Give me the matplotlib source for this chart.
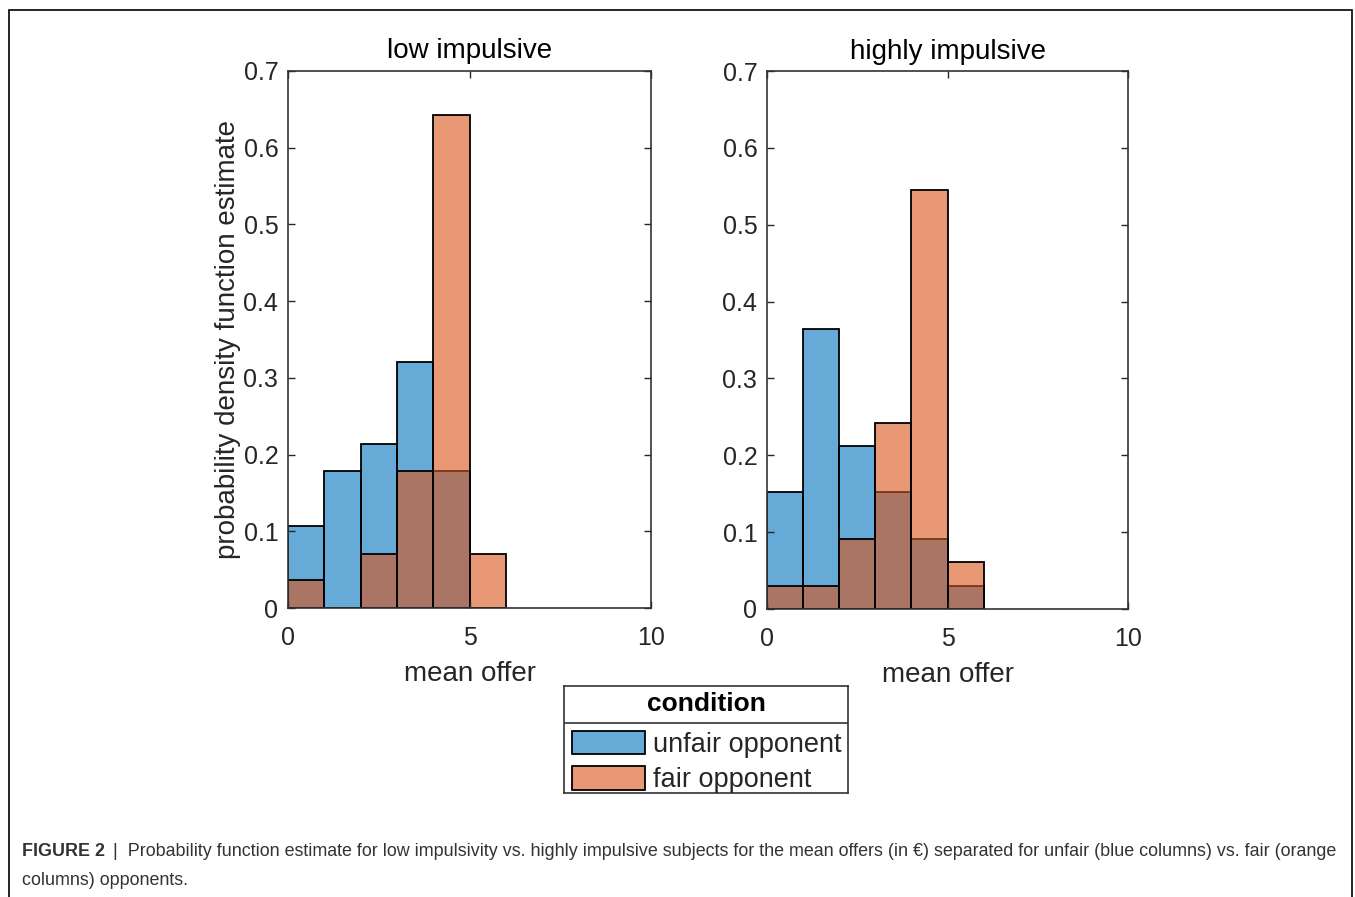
import matplotlib
matplotlib.use('Agg')
import matplotlib.pyplot as plt
from matplotlib.patches import Patch, Rectangle

# histogram bins (mean offer) and densities
bin_edges = [0, 1, 2, 3, 4, 5, 6]
panel_titles = ['low impulsive', 'highly impulsive']
series_names = ['unfair opponent', 'fair opponent']

low_unfair = [0.107, 0.179, 0.214, 0.321, 0.179, 0.0]
low_fair = [0.036, 0.0, 0.071, 0.179, 0.643, 0.071]
high_unfair = [0.152, 0.364, 0.212, 0.152, 0.091, 0.030]
high_fair = [0.030, 0.030, 0.091, 0.242, 0.545, 0.061]

xticks = [0, 5, 10]
yticks = [0, 0.1, 0.2, 0.3, 0.4, 0.5, 0.6, 0.7]
ytick_labels = ['0', '0.1', '0.2', '0.3', '0.4', '0.5', '0.6', '0.7']

caption_bold = 'FIGURE 2'
caption_line1 = ('|  Probability function estimate for low impulsivity vs. highly impulsive subjects '
                 'for the mean offers (in \u20ac) separated for unfair (blue columns) vs. fair (orange')
caption_line2 = 'columns) opponents.'

plt.rcParams['font.family'] = ['Liberation Sans', 'DejaVu Sans']
TXT = '#262626'
BLUE = (0.0, 0.447, 0.741, 0.6)
ORANGE = (0.85, 0.325, 0.098, 0.6)
W, H = 1355, 897

fig = plt.figure(figsize=(W / 100, H / 100), dpi=100)
fig.patch.set_facecolor('white')

# outer frame of the figure panel
fig.add_artist(Rectangle((9 / W, -0.05), (1352 - 9) / W, 1.05 - 10 / H,
                         transform=fig.transFigure, fill=False, edgecolor='black', lw=1.2))

ax1 = fig.add_axes([288 / W, 1 - 608 / H, 363 / W, 537 / H])
ax2 = fig.add_axes([767 / W, 1 - 609 / H, 361 / W, 538 / H])

for ax, title, unfair, fair in [(ax1, panel_titles[0], low_unfair, low_fair),
                                (ax2, panel_titles[1], high_unfair, high_fair)]:
    ax.bar(bin_edges[:-1], unfair, width=1, align='edge', facecolor=BLUE,
           edgecolor='black', lw=1.3)
    ax.bar(bin_edges[:-1], fair, width=1, align='edge', facecolor=ORANGE,
           edgecolor='black', lw=1.3)
    ax.set_xlim(0, 10)
    ax.set_ylim(0, 0.7)
    ax.set_xticks(xticks)
    ax.set_yticks(yticks)
    ax.set_yticklabels(ytick_labels)
    ax.tick_params(direction='in', top=True, right=True, length=5, width=1,
                   colors=TXT, labelsize=18, labelcolor=TXT)
    ax.tick_params(axis='x', pad=13)
    ax.tick_params(axis='y', pad=7)
    for sp in ax.spines.values():
        sp.set_color('#333333')
        sp.set_linewidth(1.2)
    ax.set_title(title, fontsize=20, color='black', pad=9)
    ax.set_xlabel('mean offer', fontsize=20, color=TXT, labelpad=8)

ax1.set_ylabel('probability density function estimate', fontsize=20, color=TXT, labelpad=2)

# legend box with title and separator line
lax = fig.add_axes([564 / W, 1 - 793 / H, 284 / W, 107 / H])
lax.set_xticks([])
lax.set_yticks([])
lax.set_xlim(0, 1)
lax.set_ylim(0, 1)
for sp in lax.spines.values():
    sp.set_color('#333333')
    sp.set_linewidth(1.2)
sep = (793 - 723) / 107
lax.axhline(sep, color='#333333', lw=1.2)
lax.text(0.5, (793 - 704) / 107, 'condition', ha='center', va='center',
         fontsize=19, fontweight='bold', color='black')
handles = [Patch(facecolor=BLUE, edgecolor='black', lw=1.3),
           Patch(facecolor=ORANGE, edgecolor='black', lw=1.3)]
lax.legend(handles, series_names, loc='upper left', bbox_to_anchor=(0, sep),
           frameon=False, fontsize=19.5, handlelength=2.7, handleheight=0.95,
           handletextpad=0.3, labelspacing=0.3, borderpad=0.3, borderaxespad=0,
           labelcolor=TXT)

# caption
fig.canvas.draw()
r = fig.canvas.get_renderer()
t = fig.text(22 / W, 1 - 851 / H, caption_bold, fontsize=12.9, fontweight='bold',
             color='#333333', va='center', ha='left')
bb = t.get_window_extent(renderer=r)
fig.text((bb.x1 + 8) / W, 1 - 851 / H, caption_line1, fontsize=12.9,
         color='#333333', va='center', ha='left')
fig.text(22 / W, 1 - 880 / H, caption_line2, fontsize=12.9,
         color='#333333', va='center', ha='left')

fig.savefig('out.png', dpi=100)
